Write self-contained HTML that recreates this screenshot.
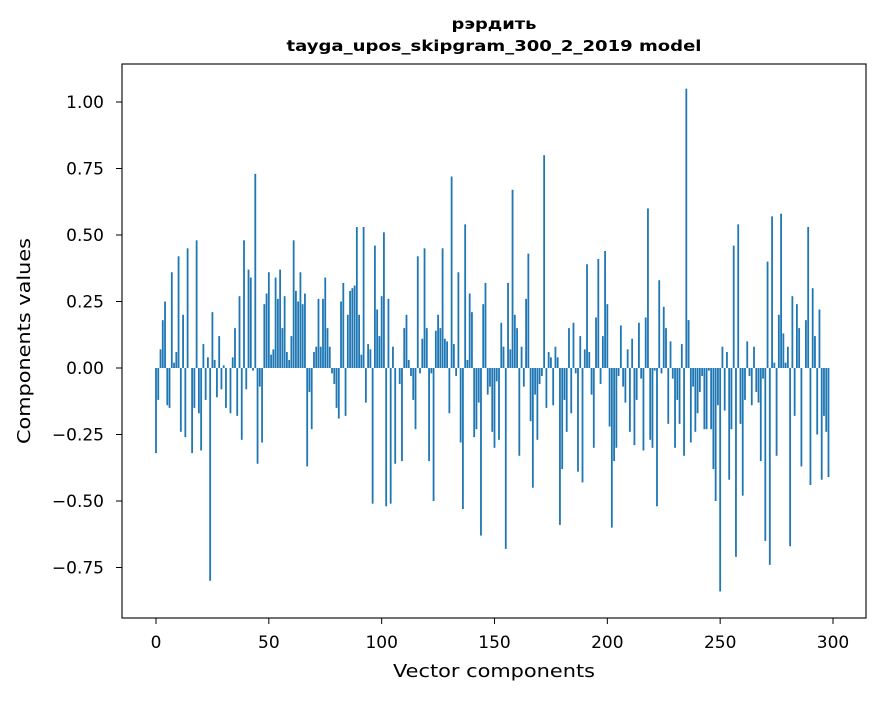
<!DOCTYPE html>
<html><head><meta charset="utf-8"><style>
body{margin:0;background:#fff;}
svg text{font-family:"DejaVu Sans","Liberation Sans",sans-serif;fill:#000;}
</style></head><body>
<svg id="chart" width="880" height="696" xmlns="http://www.w3.org/2000/svg">
<rect width="880" height="696" fill="#fff"/>
<text x="494" y="29" text-anchor="middle" font-size="15" font-weight="bold" textLength="85" lengthAdjust="spacingAndGlyphs">рэрдить</text>
<text x="494" y="51" text-anchor="middle" font-size="15" font-weight="bold" textLength="415" lengthAdjust="spacingAndGlyphs">tayga_upos_skipgram_300_2_2019 model</text>
<g id="bars"></g>
<g id="axes"></g>
<text x="494" y="677" text-anchor="middle" font-size="18" textLength="202" lengthAdjust="spacingAndGlyphs">Vector components</text>
<text transform="translate(30,341) rotate(-90)" text-anchor="middle" font-size="18" textLength="206" lengthAdjust="spacingAndGlyphs">Components values</text>
</svg>
<script>
const values = [
-0.32,-0.12,0.07,0.18,0.25,-0.14,-0.15,0.36,0.02,0.06,0.42,-0.24,0.20,-0.26,0.45,0.00,-0.32,-0.15,0.48,-0.17,
-0.31,0.09,-0.12,0.04,-0.80,0.21,0.03,-0.11,0.12,-0.08,0.01,-0.15,0.00,-0.17,0.04,0.15,-0.18,0.27,-0.27,0.48,
-0.08,0.37,0.34,-0.01,0.73,-0.36,-0.07,-0.28,0.24,0.28,0.36,0.05,0.07,0.34,0.26,0.37,0.15,0.27,0.06,0.03,
0.12,0.48,0.29,0.25,0.36,0.24,0.28,-0.37,-0.09,-0.23,0.06,0.08,0.26,
0.08,0.26,0.34,0.15,0.08,-0.02,-0.06,-0.15,-0.19,0.25,0.32,-0.18,0.20,0.29,0.30,0.31,0.53,0.20,0.05,0.53,
-0.13,0.09,0.07,-0.51,0.46,0.22,0.12,0.27,0.51,-0.52,0.26,-0.51,0.08,-0.36,0.00,-0.06,-0.35,0.15,0.20,0.03,
-0.03,-0.12,-0.23,0.42,-0.02,0.11,0.45,0.15,-0.35,-0.02,-0.50,0.14,0.20,0.15,0.45,0.11,0.10,-0.17,0.72,0.09,
-0.03,0.36,-0.28,-0.53,0.54,0.03,0.28,0.21,-0.26,-0.23,-0.13,-0.63,0.24,0.32,-0.10,
-0.07,-0.24,-0.30,-0.05,-0.27,0.17,0.08,-0.68,0.32,0.07,0.67,0.20,0.15,-0.33,0.08,-0.07,0.26,0.43,-0.20,-0.45,
-0.10,-0.27,-0.06,-0.03,0.80,-0.15,0.06,0.04,-0.14,0.08,0.04,-0.59,-0.38,-0.12,-0.24,0.15,-0.17,0.17,-0.02,-0.39,
0.12,-0.43,0.07,0.39,0.06,-0.10,-0.30,0.19,0.41,-0.06,0.12,0.44,0.24,-0.22,-0.60,-0.35,-0.30,-0.03,0.16,-0.07,
-0.13,0.07,-0.24,0.11,-0.29,-0.12,0.17,-0.04,-0.31,0.19,0.60,-0.27,-0.30,-0.01,-0.52,
0.33,-0.02,0.23,0.15,-0.21,0.10,-0.04,-0.30,-0.12,-0.21,0.09,-0.33,1.05,0.18,-0.28,-0.07,-0.24,-0.17,-0.09,-0.03,
-0.23,-0.23,-0.01,-0.23,-0.38,-0.50,-0.14,-0.84,0.08,-0.16,0.06,-0.42,-0.23,0.46,-0.71,0.54,-0.21,-0.48,-0.12,0.10,
-0.03,-0.14,0.08,-0.09,-0.13,-0.35,-0.04,-0.65,0.40,-0.74,0.57,0.02,-0.33,0.20,0.58,0.13,0.02,0.08,-0.67,0.27,
-0.18,0.24,0.15,-0.37,0.00,0.18,0.53,-0.44,0.30,0.12,-0.25,0.22,-0.42,-0.18,-0.24,-0.41
];
const xTicks = [0,50,100,150,200,250,300];
const yTicks = [-0.75,-0.50,-0.25,0.00,0.25,0.50,0.75,1.00];
const yTickLabels = ["\u22120.75","\u22120.50","\u22120.25","0.00","0.25","0.50","0.75","1.00"];

const NS="http://www.w3.org/2000/svg";
const pLeft=122,pRight=866,pTop=64,pBottom=618;
const x0=156,xs=(833-156)/300;
const y0=368,ys=266;
function X(i){return x0+i*xs;}
function Y(v){return y0-v*ys;}
const barsG=document.getElementById('bars');
const bw=0.8*xs;
values.forEach((v,i)=>{
  const r=document.createElementNS(NS,'rect');
  
  
  r.setAttribute('x',X(i)-bw/2);
  r.setAttribute('y',Math.min(Y(v),Y(0)));
  r.setAttribute('width',bw);
  r.setAttribute('height',Math.abs(Y(v)-Y(0)));
  r.setAttribute('fill','#1f77b4');
  barsG.appendChild(r);
});
const axesG=document.getElementById('axes');
const frame=document.createElementNS(NS,'rect');


frame.setAttribute('x',pLeft);frame.setAttribute('y',pTop);
frame.setAttribute('width',pRight-pLeft);frame.setAttribute('height',pBottom-pTop);
frame.setAttribute('fill','none');frame.setAttribute('stroke','#000');frame.setAttribute('stroke-width','1.1');
axesG.appendChild(frame);
xTicks.forEach(t=>{
  const l=document.createElementNS(NS,'line');
  
  
  l.setAttribute('x1',X(t));l.setAttribute('x2',X(t));l.setAttribute('y1',pBottom);l.setAttribute('y2',pBottom+6);
  l.setAttribute('stroke','#000');
  axesG.appendChild(l);
  const tx=document.createElementNS(NS,'text');
  
  
  tx.setAttribute('x',X(t));tx.setAttribute('y',pBottom+30);
  tx.setAttribute('text-anchor','middle');tx.setAttribute('font-size','17');
  tx.textContent=t;
  axesG.appendChild(tx);
});
yTicks.forEach((t,k)=>{
  const l=document.createElementNS(NS,'line');
  
  
  l.setAttribute('x1',pLeft-6);l.setAttribute('x2',pLeft);l.setAttribute('y1',Y(t));l.setAttribute('y2',Y(t));
  l.setAttribute('stroke','#000');
  axesG.appendChild(l);
  const tx=document.createElementNS(NS,'text');
  
  
  tx.setAttribute('x',104);tx.setAttribute('y',Y(t)+6);
  tx.setAttribute('text-anchor','end');tx.setAttribute('font-size','17');
  tx.textContent=yTickLabels[k];
  axesG.appendChild(tx);
});
</script>
</body></html>
